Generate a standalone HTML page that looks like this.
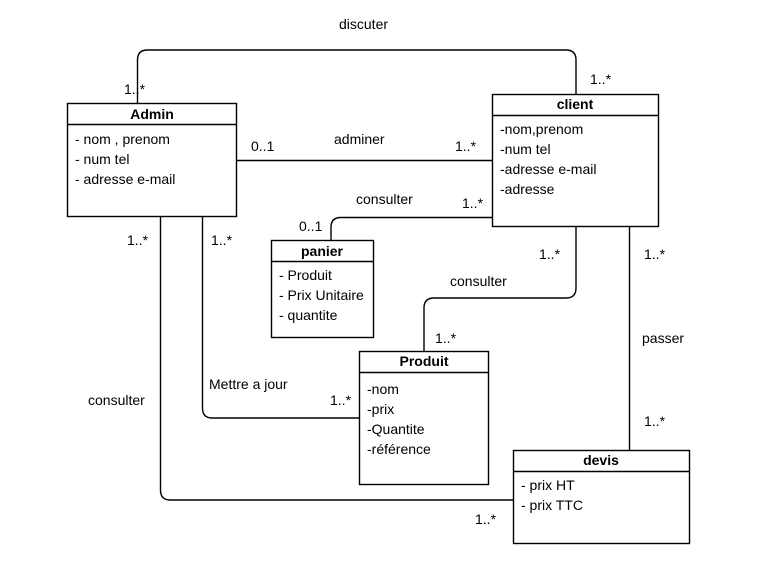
<!DOCTYPE html>
<html><head><meta charset="utf-8"><style>
body{margin:0;background:#fff;width:757px;height:582px;overflow:hidden;font-family:"Liberation Sans",Arial,sans-serif;}
svg text{font-family:"Liberation Sans",Arial,sans-serif;font-size:14px;fill:#000;}
.b{font-weight:bold;}
</style></head><body>
<svg width="757" height="582" viewBox="0 0 757 582" xmlns="http://www.w3.org/2000/svg">
<g fill="none" stroke="#000" stroke-width="1.4">
<path d="M137.5 103 V60 Q137.5 50 147.5 50 H566 Q576 50 576 60 V94"/>
<path d="M236 160.5 H492"/>
<path d="M492 217.5 H341 Q331 217.5 331 227 V240"/>
<path d="M202.5 217 V408 Q202.5 418 212 418 H359"/>
<path d="M160.5 217 V490 Q160.5 500 170 500 H513"/>
<path d="M576 227 V288 Q576 298 566 298 H434 Q424 298 424 308 V351"/>
<path d="M629.5 227 V450"/>
<rect x="67.5" y="103.5" width="169" height="113" fill="#fff"/>
<path d="M67.5 124.5 H236.5"/>
<rect x="492.5" y="94.5" width="166" height="132" fill="#fff"/>
<path d="M492.5 115.5 H658.5"/>
<rect x="271.5" y="240.5" width="102" height="97" fill="#fff"/>
<path d="M271.5 261.5 H373.5"/>
<rect x="359.5" y="351.5" width="129" height="133" fill="#fff"/>
<path d="M359.5 372.5 H488.5"/>
<rect x="513.5" y="450.5" width="176" height="93" fill="#fff"/>
<path d="M513.5 471.5 H689.5"/>
</g>
<text x="152" y="119" text-anchor="middle" class="b">Admin</text>
<text x="75" y="144">- nom , prenom</text>
<text x="75" y="164">- num tel</text>
<text x="75" y="184">- adresse e-mail</text>
<text x="575" y="109" text-anchor="middle" class="b">client</text>
<text x="500" y="134">-nom,prenom</text>
<text x="500" y="154">-num tel</text>
<text x="500" y="174">-adresse e-mail</text>
<text x="500" y="194">-adresse</text>
<text x="322" y="256" text-anchor="middle" class="b">panier</text>
<text x="279" y="280">- Produit</text>
<text x="279" y="300">- Prix Unitaire</text>
<text x="279" y="320">- quantite</text>
<text x="424" y="366" text-anchor="middle" class="b">Produit</text>
<text x="367" y="394">-nom</text>
<text x="367" y="414">-prix</text>
<text x="367" y="434">-Quantite</text>
<text x="367" y="454">-référence</text>
<text x="601" y="465" text-anchor="middle" class="b">devis</text>
<text x="521" y="490">- prix HT</text>
<text x="521" y="510">- prix TTC</text>
<text x="339" y="29">discuter</text>
<text x="124" y="94">1..*</text>
<text x="590" y="84">1..*</text>
<text x="251" y="151">0..1</text>
<text x="334" y="144">adminer</text>
<text x="455" y="151">1..*</text>
<text x="356" y="204">consulter</text>
<text x="462" y="208">1..*</text>
<text x="299" y="231">0..1</text>
<text x="127" y="245">1..*</text>
<text x="211" y="245">1..*</text>
<text x="539" y="259">1..*</text>
<text x="644" y="259">1..*</text>
<text x="450" y="286">consulter</text>
<text x="435" y="343">1..*</text>
<text x="642" y="343">passer</text>
<text x="209" y="389">Mettre a jour</text>
<text x="330" y="405">1..*</text>
<text x="88" y="405">consulter</text>
<text x="644" y="426">1..*</text>
<text x="475" y="524">1..*</text>
</svg>
</body></html>
